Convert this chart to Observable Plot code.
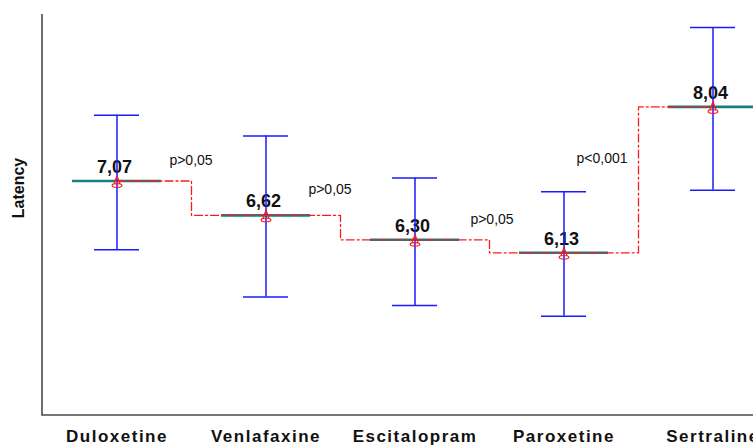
<!DOCTYPE html>
<html>
<head>
<meta charset="utf-8">
<script src="https://cdn.jsdelivr.net/npm/d3@7"></script>
<script src="https://cdn.jsdelivr.net/npm/@observablehq/plot@0.6"></script>
<style>
  html, body { margin: 0; padding: 0; background: #fff; overflow: hidden; width: 753px; height: 446px; }
  #chart svg { font-family: "Liberation Sans", Arial, sans-serif; display: block; max-width: none !important; width: 787px !important; height: 446px !important; }
  g[aria-label="x-axis tick label"] text { letter-spacing: 1.5px; }
  g[aria-label="ylabel"] text { letter-spacing: 1px; }
  g[aria-label="plabel"] text { letter-spacing: 0.8px; }
</style>
</head>
<body>
<div id="chart"></div>
<script>
const categories = ["Duloxetine", "Venlafaxine", "Escitalopram", "Paroxetine", "Sertraline"];
const means = [7.07, 6.62, 6.30, 6.13, 8.04];
const upper = [7.93, 7.66, 7.11, 6.93, 9.08];
const lower = [6.17, 5.55, 5.44, 5.30, 6.95];
const pLabels = ["p>0,05", "p>0,05", "p>0,05", "p<0,001"];
const yLabel = "Latency";

const data = categories.map((c, i) => ({cat: c, mean: means[i], upper: upper[i], lower: lower[i]}));
const pData = pLabels.map((t, i) => ({cat: categories[i], mean: means[i], text: t}));
const fmt = v => v.toFixed(2).replace(".", ",");

const bell = {
  draw(ctx, size) {
    const s = Math.sqrt(size / Math.PI);
    ctx.moveTo(-0.45 * s, 0.45 * s);
    ctx.lineTo(0, -0.75 * s);
    ctx.lineTo(0.45 * s, 0.45 * s);
    ctx.moveTo(-0.7 * s, 0.65 * s);
    ctx.bezierCurveTo(-0.7 * s, 0.3 * s, 0.7 * s, 0.3 * s, 0.7 * s, 0.65 * s);
    ctx.bezierCurveTo(0.7 * s, 1.0 * s, -0.7 * s, 1.0 * s, -0.7 * s, 0.65 * s);
  }
};

const pOffsets = [[74, -20], [64, -26], [77, -20], [38, -94]];

const axesLines = (index, scales, values, dimensions) => {
  const {marginLeft, marginTop, marginBottom, width, height} = dimensions;
  const g = d3.create("svg:g");
  g.append("path")
    .attr("d", `M${marginLeft},${marginTop}V${height - marginBottom}H${width}`)
    .attr("fill", "none")
    .attr("stroke", "#4a4a4a")
    .attr("stroke-width", 1.6);
  return g.node();
};

const plot = Plot.plot({
  width: 787,
  height: 446,
  marginLeft: 42,
  marginRight: 0,
  marginTop: 14,
  marginBottom: 31,
  x: {type: "band", domain: categories, padding: 0, label: null},
  y: {domain: [4, 9.25], axis: null},
  marks: [
    axesLines,
    Plot.axisX({tickSize: 0, tickPadding: 14, fontSize: 17, fontWeight: "bold", fill: "#111", label: null}),
    Plot.text(data, {x: "cat", y: "mean", text: d => fmt(d.mean), dx: -2.5, dy: -14, lineAnchor: "middle", fontSize: 18, fontWeight: "bold", fill: "#111"}),
    Plot.tickY(data, {x: "cat", y: "mean", stroke: "#168080", strokeWidth: 2.6, insetLeft: 30, insetRight: 30}),
    Plot.ruleX(data, {x: "cat", y1: "lower", y2: "upper", stroke: "#1a1aff", strokeWidth: 1.5}),
    Plot.tickY(data, {x: "cat", y: "upper", stroke: "#1a1aff", strokeWidth: 1.5, insetLeft: 52, insetRight: 52}),
    Plot.tickY(data, {x: "cat", y: "lower", stroke: "#1a1aff", strokeWidth: 1.5, insetLeft: 52, insetRight: 52}),
    Plot.line(data, {x: "cat", y: "mean", curve: "step", stroke: "#ff1a1a", strokeWidth: 1.3, strokeDasharray: "8,3,2,3"}),
    Plot.dot(data, {x: "cat", y: "mean", symbol: bell, r: 7, stroke: "#ff1a1a", fill: "none", strokeWidth: 1.2}),
    ...pData.map((d, i) => Plot.text([d], {x: "cat", y: "mean", text: "text", dx: pOffsets[i][0], dy: pOffsets[i][1], lineAnchor: "middle", fontSize: 14, fill: "#111", ariaLabel: "plabel"})),
    Plot.text([yLabel], {frameAnchor: "left", dx: -24, dy: -27, rotate: -90, textAnchor: "middle", lineAnchor: "middle", fontSize: 16, fontWeight: "bold", fill: "#111", ariaLabel: "ylabel"})
  ]
});
document.getElementById("chart").append(plot);
</script>
</body>
</html>
